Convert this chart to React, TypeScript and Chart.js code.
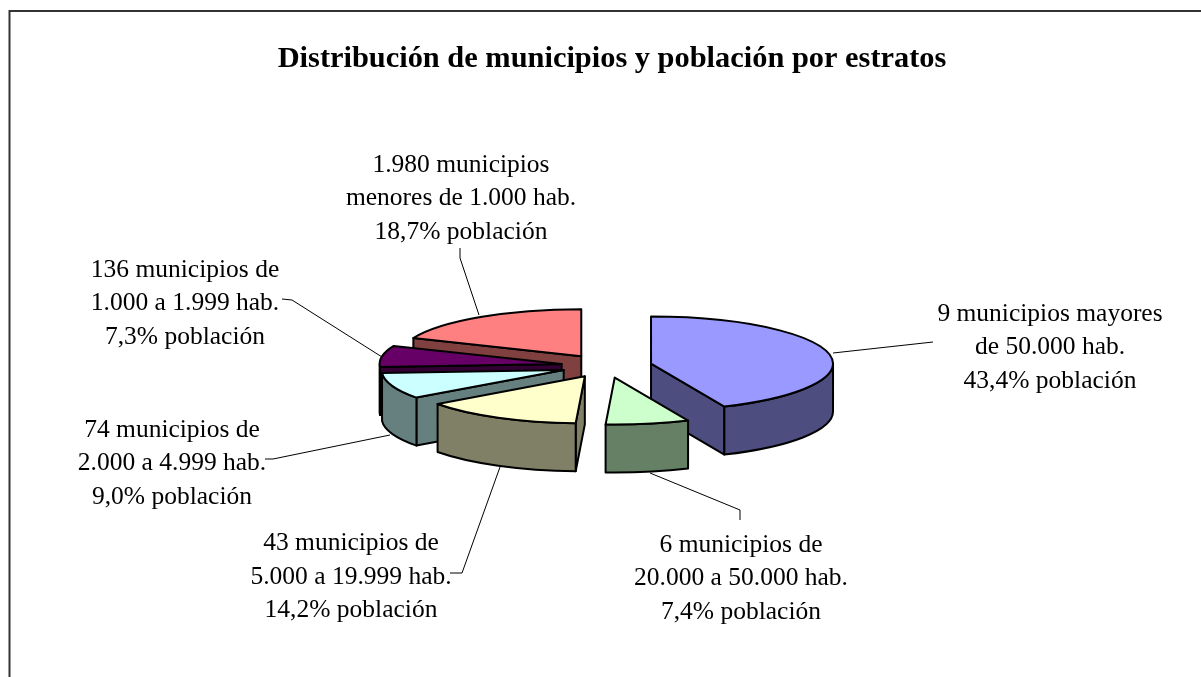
import React, { useEffect, useRef } from "react";
import { Chart, registerables } from "chart.js";

Chart.register(...registerables);

const title = "Distribución de municipios y población por estratos";
const categories = [
  "9 municipios mayores de 50.000 hab.",
  "6 municipios de 20.000 a 50.000 hab.",
  "43 municipios de 5.000 a 19.999 hab.",
  "74 municipios de 2.000 a 4.999 hab.",
  "136 municipios de 1.000 a 1.999 hab.",
  "1.980 municipios menores de 1.000 hab.",
];
const poblacion = [43.4, 7.4, 14.2, 9.0, 7.3, 18.7];
const labelLines = [
  ["9 municipios mayores", "de 50.000 hab.", "43,4% población"],
  ["6 municipios de", "20.000 a 50.000 hab.", "7,4% población"],
  ["43 municipios de", "5.000 a 19.999 hab.", "14,2% población"],
  ["74 municipios de", "2.000 a 4.999 hab.", "9,0% población"],
  ["136 municipios de", "1.000 a 1.999 hab.", "7,3% población"],
  ["1.980 municipios", "menores de 1.000 hab.", "18,7% población"],
];
const topColors = ["#9999FF", "#CCFFCC", "#FFFFCC", "#CCFFFF", "#660066", "#FF8080"];
const sideColors = ["#4D4D80", "#668066", "#808066", "#668080", "#330033", "#804040"];

// Layout of the picture, apart from the data
const paintOrder = [5, 4, 3, 2, 0, 1];
const pieCenter = { x: 606.5, y: 366 };
const pieRadius = 182;
const explosion = 0.25;
const tilt = 47 / 182;
const depth = 48;
const labelCenters = [
  { x: 1050, y: 314 },
  { x: 741, y: 545 },
  { x: 351, y: 543.5 },
  { x: 172, y: 430 },
  { x: 185, y: 270 },
  { x: 461, y: 165 },
];
const lineGap = 33.5;
const leaders = [
  [[833, 353], [933, 342]],
  [[650, 473], [740, 510], [740, 520]],
  [[500, 467], [462, 573], [450, 573]],
  [[390, 435], [273, 459], [265, 459]],
  [[382, 357], [292, 300], [282, 299]],
  [[479, 315], [460, 258], [460, 248]],
];

const pie3d = {
  id: "pie3d",
  beforeDraw(chart: any) {
    const { ctx, width, height } = chart;
    ctx.save();
    ctx.strokeStyle = "#333333";
    ctx.lineWidth = 2;
    ctx.beginPath();
    ctx.moveTo(9.5, height);
    ctx.lineTo(9.5, 11);
    ctx.lineTo(width, 11);
    ctx.stroke();
    ctx.restore();
  },
  beforeDatasetsDraw(chart: any) {
    const { ctx } = chart;
    const arcs = chart.getDatasetMeta(0).data;

    // leader lines lie under the slices
    ctx.save();
    ctx.strokeStyle = "#000000";
    ctx.lineWidth = 1;
    leaders.forEach((pts) => {
      ctx.beginPath();
      pts.forEach(([x, y], i) => (i ? ctx.lineTo(x, y) : ctx.moveTo(x, y)));
      ctx.stroke();
    });
    ctx.restore();

    paintOrder.forEach((i) => {
      const arc = arcs[i];
      const { x, y, startAngle: a0, endAngle: a1, outerRadius: r } = arc.getProps(
        ["x", "y", "startAngle", "endAngle", "outerRadius"],
        true
      );
      const mid = (a0 + a1) / 2;
      const off = r * explosion;
      const ax = pieCenter.x + Math.cos(mid) * off;
      const ay = pieCenter.y + Math.sin(mid) * off * tilt;
      const ry = r * tilt;
      const px = (a: number) => ax + r * Math.cos(a);
      const py = (a: number) => ay + ry * Math.sin(a);

      ctx.save();
      ctx.lineWidth = 2;
      ctx.lineJoin = "round";
      ctx.strokeStyle = "#000000";
      ctx.fillStyle = sideColors[i];

      const radialFace = (a: number) => {
        ctx.beginPath();
        ctx.moveTo(ax, ay);
        ctx.lineTo(px(a), py(a));
        ctx.lineTo(px(a), py(a) + depth);
        ctx.lineTo(ax, ay + depth);
        ctx.closePath();
        ctx.fill();
        ctx.stroke();
      };
      if (Math.cos(a0) < -0.001) radialFace(a0);
      if (Math.cos(a1) > 0.001) radialFace(a1);

      const f0 = Math.max(a0, 0);
      const f1 = Math.min(a1, Math.PI);
      if (f1 > f0) {
        ctx.beginPath();
        ctx.ellipse(ax, ay, r, ry, 0, f0, f1);
        ctx.lineTo(px(f1), py(f1) + depth);
        ctx.ellipse(ax, ay + depth, r, ry, 0, f1, f0, true);
        ctx.closePath();
        ctx.fill();
        ctx.stroke();
      }

      // the top is the library's own arc, squashed by the tilt
      ctx.save();
      ctx.translate(ax, ay);
      ctx.scale(1, tilt);
      ctx.translate(-x, -y);
      arc.draw(ctx, chart.chartArea);
      ctx.restore();

      ctx.beginPath();
      ctx.moveTo(ax, ay);
      ctx.ellipse(ax, ay, r, ry, 0, a0, a1);
      ctx.closePath();
      ctx.stroke();
      ctx.restore();
    });
    return false;
  },
  afterDraw(chart: any) {
    const { ctx } = chart;
    ctx.save();
    ctx.fillStyle = "#000000";
    ctx.font = '25.5px "Liberation Serif"';
    ctx.textAlign = "center";
    ctx.textBaseline = "middle";
    labelLines.forEach((lines, i) => {
      lines.forEach((line, j) => {
        ctx.fillText(line, labelCenters[i].x, labelCenters[i].y + j * lineGap);
      });
    });
    ctx.restore();
  },
};

export default function App() {
  const ref = useRef<HTMLCanvasElement>(null);
  useEffect(() => {
    const chart = new Chart(ref.current!, {
      type: "pie",
      data: {
        labels: categories,
        datasets: [
          {
            data: poblacion,
            backgroundColor: topColors,
            borderWidth: 0,
          },
        ],
      },
      options: {
        animation: false,
        responsive: false,
        radius: pieRadius,
        layout: { padding: { left: 23, right: 0, top: 0, bottom: 0 } },
        plugins: {
          legend: { display: false },
          tooltip: { enabled: false },
          title: {
            display: true,
            text: title,
            color: "#000000",
            font: { family: '"Liberation Serif"', size: 30.4, weight: "bold" },
            padding: { top: 41, bottom: 10 },
          },
        },
      },
      plugins: [pie3d],
    } as any);
    return () => chart.destroy();
  }, []);
  return (
    <canvas
      ref={ref}
      width={1201}
      height={677}
      style={{ position: "absolute", left: 0, top: 0, width: 1201, height: 677 }}
    />
  );
}
